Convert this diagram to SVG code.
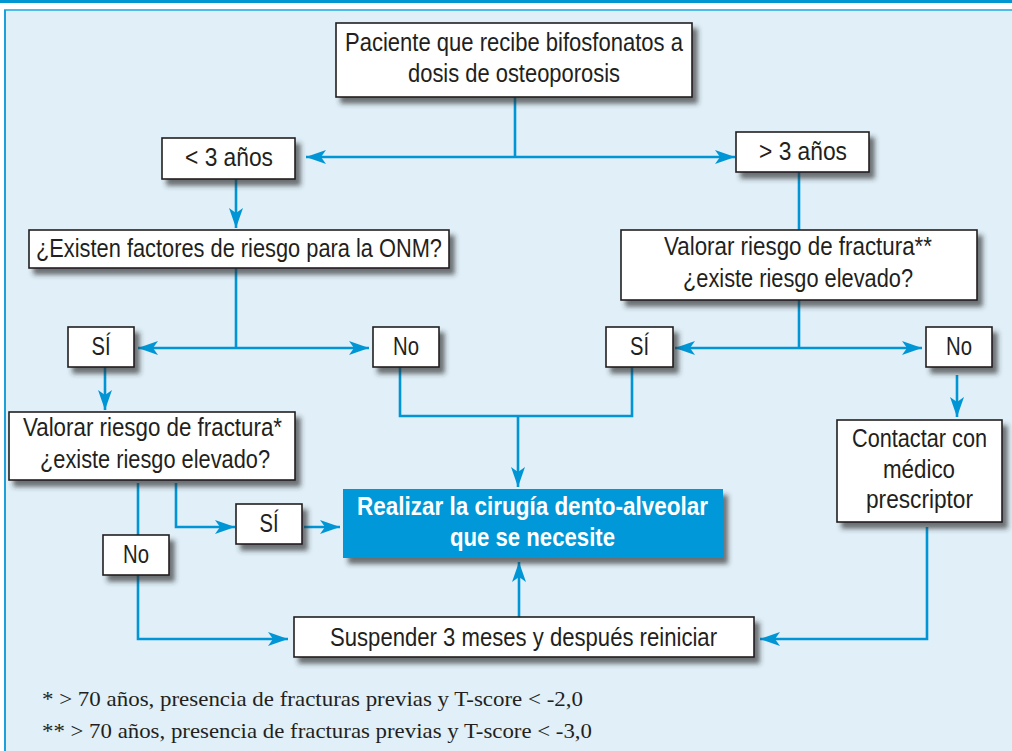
<svg xmlns="http://www.w3.org/2000/svg" width="1012" height="751" viewBox="0 0 1012 751">
<defs>
<filter id="sh" x="-10%" y="-20%" width="130%" height="160%">
<feDropShadow dx="5" dy="6" stdDeviation="2.8" flood-color="#2a2a2a" flood-opacity="0.65"/>
</filter>
<marker id="ah" viewBox="0 0 20 14" refX="20" refY="7" markerWidth="20" markerHeight="14" markerUnits="userSpaceOnUse" orient="auto">
<path d="M0,0 L20,7 L0,14 L5,7 z" fill="#0096d6"/>
</marker>
<style>
.box{fill:#ffffff;stroke:#231f20;stroke-width:1.6;filter:url(#sh)}
.hi{fill:#0098d8;filter:url(#sh)}
.t{font-family:"Liberation Sans Narrow","Liberation Sans",Arial,sans-serif;font-size:25px;fill:#231f20;text-anchor:middle}
.tw{font-family:"Liberation Sans Narrow","Liberation Sans",Arial,sans-serif;font-size:25px;font-weight:bold;fill:#ffffff;text-anchor:middle}
.fn{font-family:"Liberation Serif","Times New Roman",serif;font-size:21px;fill:#231f20}
.c{fill:none;stroke:#0096d6;stroke-width:2.6}
.a{marker-end:url(#ah)}
</style>
</defs>
<rect x="0" y="0" width="1012" height="751" fill="#ffffff"/>
<rect x="0" y="0" width="1012" height="3" fill="#0096d2"/>
<rect x="4" y="10" width="1008" height="741" fill="#e0eff8"/>
<line x1="4" y1="10" x2="1012" y2="10" stroke="#4fbbe8" stroke-width="2"/>
<line x1="5" y1="10" x2="5" y2="751" stroke="#1d9fd9" stroke-width="2"/>

<g id="connectors">
<path class="c" d="M515,97 V157"/>
<path class="c a" d="M515,157 H306"/>
<path class="c a" d="M515,157 H735"/>
<path class="c a" d="M236,179 V228"/>
<path class="c" d="M236,268 V348"/>
<path class="c a" d="M236,348 H138"/>
<path class="c a" d="M236,348 H369"/>
<path class="c" d="M799,172 V230"/>
<path class="c" d="M799,300 V348"/>
<path class="c a" d="M799,348 H675"/>
<path class="c a" d="M799,348 H922"/>
<path class="c a" d="M105,367 V410"/>
<path class="c" d="M400,367 V416 H632 V367"/>
<path class="c a" d="M518,416 V487"/>
<path class="c a" d="M957,375 V417"/>
<path class="c" d="M138,483 V535"/>
<path class="c a" d="M176,483 V527 H235"/>
<path class="c a" d="M304,527 H340"/>
<path class="c a" d="M138,575 V639 H288"/>
<path class="c a" d="M519,617 V562"/>
<path class="c a" d="M927,527 V639 H760"/>
</g>

<g id="n-paciente">
<rect class="box" x="336" y="23" width="356" height="74"/>
<text class="t" x="514" y="51" textLength="338" lengthAdjust="spacingAndGlyphs">Paciente que recibe bifosfonatos a</text>
<text class="t" x="514" y="82" textLength="212" lengthAdjust="spacingAndGlyphs">dosis de osteoporosis</text>
</g>
<g id="n-menos3">
<rect class="box" x="162" y="138" width="133" height="41"/>
<text class="t" x="229" y="166" textLength="88" lengthAdjust="spacingAndGlyphs">&lt; 3 años</text>
</g>
<g id="n-mas3">
<rect class="box" x="736" y="132" width="133" height="40"/>
<text class="t" x="803" y="160" textLength="88" lengthAdjust="spacingAndGlyphs">&gt; 3 años</text>
</g>
<g id="n-onm">
<rect class="box" x="29" y="230" width="420" height="38"/>
<text class="t" x="239" y="257" textLength="406" lengthAdjust="spacingAndGlyphs">¿Existen factores de riesgo para la ONM?</text>
</g>
<g id="n-valorar2">
<rect class="box" x="621" y="230" width="356" height="70"/>
<text class="t" x="798" y="255" textLength="268" lengthAdjust="spacingAndGlyphs">Valorar riesgo de fractura**</text>
<text class="t" x="798" y="287" textLength="230" lengthAdjust="spacingAndGlyphs">¿existe riesgo elevado?</text>
</g>
<g id="n-si1">
<rect class="box" x="68" y="327" width="66" height="40"/>
<text class="t" x="101" y="355" textLength="19" lengthAdjust="spacingAndGlyphs">SÍ</text>
</g>
<g id="n-no1">
<rect class="box" x="373" y="327" width="66" height="40"/>
<text class="t" x="406" y="355" textLength="26" lengthAdjust="spacingAndGlyphs">No</text>
</g>
<g id="n-si2">
<rect class="box" x="606" y="327" width="67" height="40"/>
<text class="t" x="639.5" y="355" textLength="19" lengthAdjust="spacingAndGlyphs">SÍ</text>
</g>
<g id="n-no2">
<rect class="box" x="926" y="327" width="66" height="40"/>
<text class="t" x="959" y="355" textLength="26" lengthAdjust="spacingAndGlyphs">No</text>
</g>
<g id="n-valorar1">
<rect class="box" x="9" y="412" width="286" height="68"/>
<text class="t" x="152.5" y="436" textLength="259" lengthAdjust="spacingAndGlyphs">Valorar riesgo de fractura*</text>
<text class="t" x="155" y="468" textLength="230" lengthAdjust="spacingAndGlyphs">¿existe riesgo elevado?</text>
</g>
<g id="n-si3">
<rect class="box" x="236" y="504" width="66" height="40"/>
<text class="t" x="269" y="532" textLength="19" lengthAdjust="spacingAndGlyphs">SÍ</text>
</g>
<g id="n-no3">
<rect class="box" x="103" y="535" width="66" height="40"/>
<text class="t" x="136" y="563" textLength="26" lengthAdjust="spacingAndGlyphs">No</text>
</g>
<g id="n-cirugia">
<rect class="hi" x="343" y="489" width="380" height="69"/>
<text class="tw" x="532.5" y="515" textLength="351" lengthAdjust="spacingAndGlyphs">Realizar la cirugía dento-alveolar</text>
<text class="tw" x="532.5" y="546" textLength="165" lengthAdjust="spacingAndGlyphs">que se necesite</text>
</g>
<g id="n-contactar">
<rect class="box" x="837" y="420" width="165" height="102"/>
<text class="t" x="919.5" y="447" textLength="135" lengthAdjust="spacingAndGlyphs">Contactar con</text>
<text class="t" x="919" y="478" textLength="72" lengthAdjust="spacingAndGlyphs">médico</text>
<text class="t" x="919.5" y="508" textLength="107" lengthAdjust="spacingAndGlyphs">prescriptor</text>
</g>
<g id="n-suspender">
<rect class="box" x="294" y="617" width="460" height="40"/>
<text class="t" x="523.5" y="646" textLength="387" lengthAdjust="spacingAndGlyphs">Suspender 3 meses y después reiniciar</text>
</g>

<g id="footnotes">
<text class="fn" x="42" y="706" textLength="541" lengthAdjust="spacingAndGlyphs">* &gt; 70 años, presencia de fracturas previas y T-score &lt; -2,0</text>
<text class="fn" x="42" y="738" textLength="550" lengthAdjust="spacingAndGlyphs">** &gt; 70 años, presencia de fracturas previas y T-score &lt; -3,0</text>
</g>
</svg>
